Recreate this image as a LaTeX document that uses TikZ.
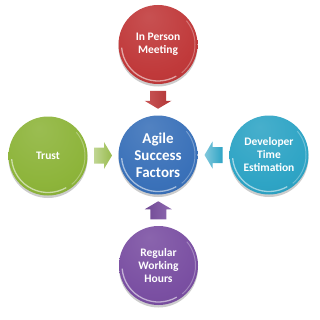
\documentclass[tikz,border=0pt]{standalone}
\usepackage{fontspec}
\setmainfont{Carlito}
\usetikzlibrary{shadows,calc}
\makeatletter
\pgfdeclareradialshading[tikz@ball]{glossy}{\pgfpoint{-6bp}{18bp}}{%
 color(0bp)=(tikz@ball!88!white);
 color(30bp)=(tikz@ball);
 color(62bp)=(tikz@ball!84!black);
 color(80bp)=(tikz@ball!84!black)}
\makeatother
\definecolor{cred}{HTML}{C0393A}
\definecolor{cblue}{HTML}{3A71B9}
\definecolor{cgreen}{HTML}{8DB43A}
\definecolor{cteal}{HTML}{2EA4C5}
\definecolor{cpurple}{HTML}{7A4FA2}
\tikzset{
  ballnode/.style={circle, minimum size=79pt, inner sep=0pt,
    ball color=#1, shading=glossy, text=white, align=center,
    font=\bfseries\fontsize{11.5}{13}\selectfont,
    drop shadow={shadow xshift=0pt, shadow yshift=-2.5pt, opacity=0.2, fill=black},
    path picture={
      \draw[white, opacity=0.55, line width=1.3pt]
        ($(path picture bounding box.center)+(185:36.5pt)$)
        arc[start angle=185, end angle=300, radius=36.5pt];
      \draw[white, opacity=0.3, line width=1pt]
        ($(path picture bounding box.center)+(-50:37pt)$)
        arc[start angle=-50, end angle=40, radius=37pt];}},
  pics/blockarr/.style={code={
    \shade[pic actions] (-9,-8) -- (1,-8) -- (1,-13.5) -- (9,0)
      -- (1,13.5) -- (1,8) -- (-9,8) -- cycle;}}
}
\begin{document}
\begin{tikzpicture}[x=1pt,y=1pt]
\useasboundingbox (0,0) rectangle (320,319);
\node[ballnode=cblue, font=\bfseries\fontsize{15}{17}\selectfont] (ctr) at (158,164) {Agile\\Success\\Factors};
\node[ballnode=cred] (top) at (158,274.5) {In Person\\Meeting};
\node[ballnode=cpurple] (bot) at (158.5,53.5) {Regular\\Working\\Hours};
\node[ballnode=cgreen] (lft) at (48,163) {Trust};
\node[ballnode=cteal] (rgt) at (269,164) {Developer\\Time\\Estimation};

\pic[rotate=-90, left color=cred!85!white, right color=cred!92!black] (aT) at ($(top.south)!0.5!(ctr.north)$) {blockarr};
\pic[rotate=90, left color=cpurple!92!black, right color=cpurple!85!white] (aB) at ($(bot.north)!0.5!(ctr.south)$) {blockarr};
\pic[rotate=0, left color=cgreen!55!white, right color=cgreen!90!white] (aL) at ($(lft.east)!0.5!(ctr.west)$) {blockarr};
\pic[rotate=180, left color=cteal!60!white, right color=cteal] (aR) at ($(rgt.west)!0.5!(ctr.east)$) {blockarr};
\end{tikzpicture}
\end{document}
